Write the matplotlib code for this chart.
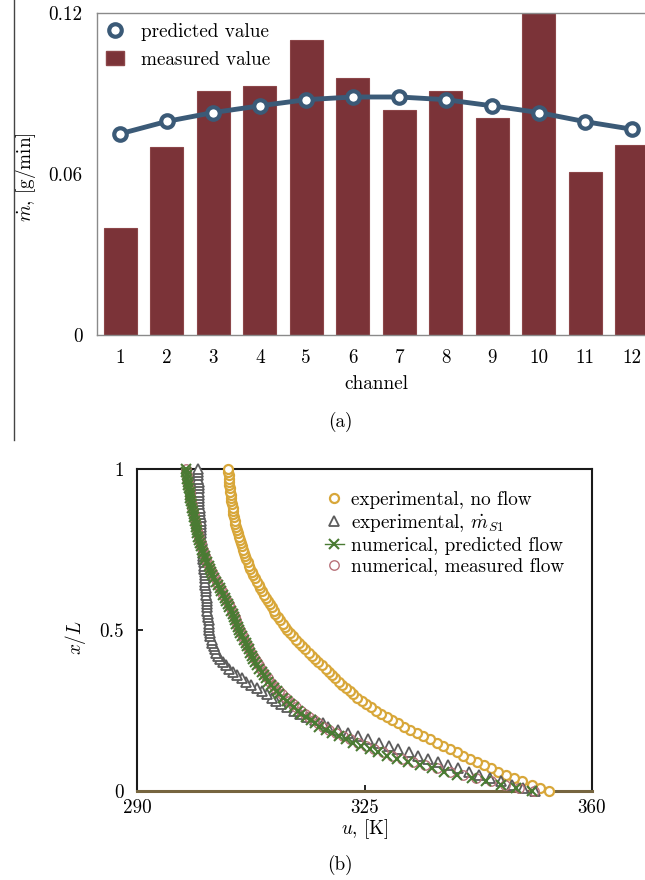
import matplotlib
matplotlib.use("Agg")
import matplotlib.pyplot as plt
from matplotlib.lines import Line2D
from matplotlib.patches import Patch
import numpy as np

plt.rcParams['font.family'] = ['cmr10', 'DejaVu Serif']
plt.rcParams['mathtext.fontset'] = 'cm'
plt.rcParams['axes.formatter.use_mathtext'] = True
plt.rcParams['axes.unicode_minus'] = False

# ---------------- data: panel (a) ----------------
channels = [1, 2, 3, 4, 5, 6, 7, 8, 9, 10, 11, 12]
measured = [0.0399, 0.0699, 0.0910, 0.0929, 0.1098, 0.0958, 0.0839, 0.0910, 0.0810, 0.1215, 0.0608, 0.0709]
predicted = [0.0750, 0.0796, 0.0829, 0.0854, 0.0877, 0.0887, 0.0887, 0.0877, 0.0854, 0.0829, 0.0795, 0.0767]
ticks_a_y = [0, 0.06, 0.12]
ticklabels_a_y = ["0", "0.06", "0.12"]

# ---------------- data: panel (b) ----------------
x_over_L = np.linspace(0.0, 1.0, 101)
u_exp_noflow = [
    353.4, 352.0, 350.7, 349.3, 348.0, 346.8, 345.6, 344.5, 343.4, 342.3, 341.2,
    340.2, 339.2, 338.1, 337.1, 336.1, 335.1, 334.0, 333.0, 332.0, 331.0,
    330.1, 329.3, 328.4, 327.6, 326.8, 326.0, 325.3, 324.6, 323.9, 323.3,
    322.7, 322.1, 321.6, 321.0, 320.5, 320.0, 319.5, 319.0, 318.4, 317.9,
    317.4, 316.9, 316.4, 315.9, 315.4, 314.9, 314.5, 314.0, 313.6, 313.1,
    312.7, 312.4, 312.0, 311.7, 311.3, 311.0, 310.7, 310.4, 310.1, 309.8,
    309.5, 309.2, 308.9, 308.7, 308.4, 308.2, 307.9, 307.7, 307.4, 307.2,
    307.0, 306.8, 306.6, 306.5, 306.3, 306.1, 306.0, 305.8, 305.7, 305.5,
    305.4, 305.3, 305.1, 305.0, 304.9, 304.8, 304.7, 304.7, 304.6, 304.5,
    304.4, 304.4, 304.3, 304.3, 304.2, 304.2, 304.1, 304.1, 304.0, 304.0]
u_exp_ms1 = [
    351.2, 349.4, 347.7, 346.0, 344.3, 342.6, 341.0, 339.4, 337.9, 336.3, 334.8,
    333.3, 331.8, 330.2, 328.7, 327.2, 325.6, 324.0, 322.5, 320.9, 319.4,
    318.6, 317.4, 316.2, 315.1, 314.1, 313.1, 312.2, 311.4, 310.7, 310.0,
    309.2, 308.4, 307.6, 306.8, 306.1, 305.4, 304.8, 304.2, 303.7, 303.2,
    302.8, 302.5, 302.2, 302.0, 301.8, 301.6, 301.5, 301.3, 301.2, 301.1,
    301.1, 301.0, 301.0, 300.9, 300.9, 300.8, 300.8, 300.8, 300.7, 300.7,
    300.6, 300.6, 300.6, 300.5, 300.5, 300.5, 300.4, 300.4, 300.3, 300.3,
    300.3, 300.2, 300.2, 300.1, 300.1, 300.1, 300.0, 300.0, 299.9, 299.9,
    299.9, 299.9, 299.8, 299.8, 299.8, 299.7, 299.7, 299.7, 299.6, 299.6,
    299.6, 299.6, 299.5, 299.5, 299.5, 299.5, 299.4, 299.4, 299.4, 299.4]
u_num_pred = [
    350.7, 348.3, 346.0, 343.7, 341.5, 339.3, 337.3, 335.4, 333.5, 331.7, 330.0,
    328.5, 327.1, 325.8, 324.5, 323.3, 322.2, 321.1, 320.0, 319.0, 318.0,
    317.4, 316.7, 316.0, 315.3, 314.7, 314.1, 313.6, 313.0, 312.5, 311.9,
    311.5, 311.0, 310.6, 310.2, 309.8, 309.5, 309.2, 308.8, 308.5, 308.2,
    307.9, 307.7, 307.4, 307.2, 306.9, 306.7, 306.4, 306.2, 305.9, 305.7,
    305.5, 305.3, 305.1, 304.9, 304.7, 304.5, 304.2, 304.0, 303.7, 303.5,
    303.2, 302.9, 302.7, 302.4, 302.2, 301.9, 301.6, 301.4, 301.2, 301.0,
    300.7, 300.5, 300.4, 300.2, 300.0, 299.9, 299.7, 299.6, 299.4, 299.3,
    299.2, 299.1, 299.0, 298.9, 298.8, 298.7, 298.6, 298.5, 298.4, 298.3,
    298.2, 298.1, 298.1, 298.0, 297.9, 297.8, 297.7, 297.7, 297.6, 297.5]
u_num_meas = [
    351.0, 348.8, 346.6, 344.4, 342.2, 340.1, 338.1, 336.2, 334.3, 332.5, 330.8,
    329.3, 327.9, 326.5, 325.2, 324.0, 322.8, 321.7, 320.6, 319.6, 318.6,
    317.9, 317.2, 316.5, 315.8, 315.2, 314.5, 314.0, 313.4, 312.9, 312.3,
    311.8, 311.3, 310.9, 310.5, 310.1, 309.7, 309.4, 309.0, 308.7, 308.4,
    308.1, 307.8, 307.6, 307.3, 307.1, 306.8, 306.5, 306.3, 306.0, 305.8,
    305.6, 305.4, 305.2, 305.0, 304.8, 304.6, 304.3, 304.1, 303.8, 303.6,
    303.3, 303.0, 302.8, 302.5, 302.3, 302.0, 301.7, 301.5, 301.3, 301.1,
    300.8, 300.6, 300.4, 300.2, 300.1, 299.9, 299.8, 299.6, 299.5, 299.4,
    299.2, 299.1, 299.0, 298.9, 298.8, 298.7, 298.6, 298.5, 298.4, 298.3,
    298.2, 298.1, 298.1, 298.0, 297.9, 297.8, 297.7, 297.7, 297.6, 297.5]
ticks_b_x = [290, 325, 360]
ticks_b_y = [0, 0.5, 1]
ticklabels_b_y = ["0", "0.5", "1"]

W, H = 645, 880
FS = 13.8
fig = plt.figure(figsize=(W / 100, H / 100), dpi=100)

def fx(px):
    return px / W

def fy(py):
    return 1 - py / H

# ---------------- panel (a) ----------------
ax1 = fig.add_axes([fx(97), fy(335), (655 - 97) / W, (335 - 13) / H])
bar_color = '#7b3338'
line_color = '#3b5a77'
ax1.bar(channels, measured, width=0.72, color=bar_color, edgecolor='#8c4649', linewidth=0.8, zorder=2)
ax1.plot(channels, predicted, color=line_color, lw=3.5, marker='o', ms=9,
         mfc='white', mec=line_color, mew=3, zorder=3)
ax1.set_xlim(0.5, 12.5)
ax1.set_ylim(0, 0.12)
ax1.set_xticks(channels)
ax1.set_xticklabels([str(c) for c in channels], fontsize=FS)
ax1.set_yticks(ticks_a_y)
ax1.set_yticklabels(ticklabels_a_y, fontsize=FS)
ax1.tick_params(axis='both', length=0)
ax1.tick_params(axis='x', pad=10)
ax1.tick_params(axis='y', pad=10.5)
for s in ax1.spines.values():
    s.set_color('#8a8a8a')
    s.set_linewidth(1.0)
ax1.set_xlabel('channel', fontsize=FS, labelpad=6)
ax1.set_ylabel(r'$\dot{m}$, [g/min]', fontsize=FS)
ax1.yaxis.set_label_coords(-0.106, 0.49)
h1 = [Line2D([], [], color=line_color, lw=3, marker='o', ms=9, mfc='white', mec=line_color, mew=3, linestyle='none'),
      Patch(facecolor=bar_color, edgecolor='#8c4649')]
ax1.legend(h1, ['predicted value', 'measured value'], loc='upper left',
           bbox_to_anchor=(0.0094, 0.9806), frameon=False, fontsize=FS,
           handlelength=0.95, handletextpad=0.85, labelspacing=0.5, borderpad=0.2,
           borderaxespad=0)

fig.text(fx(340), fy(422), '(a)', fontsize=FS, ha='center', va='center')
fig.add_artist(Line2D([fx(14), fx(14)], [fy(0), fy(440)], color='#444444', lw=1.0))

# ---------------- panel (b) ----------------
ax2 = fig.add_axes([fx(137), fy(791), (592 - 137) / W, (791 - 469) / H])
yel = '#d8a73a'
gry = '#5c5c5c'
grn = '#4a7b33'
pnk = '#b8727a'
ax2.plot(u_exp_noflow, x_over_L, linestyle='none', marker='o', ms=6.5, mfc='white', mec=yel, mew=1.6, clip_on=False, zorder=3)
ax2.plot(u_exp_ms1, x_over_L, linestyle='none', marker='^', ms=7.3, mfc='white', mec=gry, mew=1.3, clip_on=False, zorder=3)
ax2.plot(u_num_meas, x_over_L, linestyle='none', marker='o', ms=6.8, mfc='none', mec=pnk, mew=1.0, clip_on=False, zorder=4)
ax2.plot(u_num_pred, x_over_L, linestyle='none', marker='x', ms=7.2, mec=grn, mew=1.5, clip_on=False, zorder=5)
ax2.set_xlim(290, 360)
ax2.set_ylim(0, 1)
ax2.set_xticks(ticks_b_x)
ax2.set_xticklabels([str(t) for t in ticks_b_x], fontsize=FS)
ax2.set_yticks(ticks_b_y)
ax2.set_yticklabels(ticklabels_b_y, fontsize=FS)
ax2.tick_params(axis='both', direction='in', length=4, width=1.2, color='black')
ax2.tick_params(axis='x', pad=6)
ax2.tick_params(axis='y', pad=9.5)
for s in ax2.spines.values():
    s.set_color('#1a1a1a')
    s.set_linewidth(1.5)
ax2.spines['bottom'].set_color('#76653f')
ax2.spines['bottom'].set_linewidth(2.2)
ax2.set_xlabel(r'$u$, [K]', fontsize=FS, labelpad=0)
ax2.set_ylabel(r'$x/L$', fontsize=FS)
ax2.yaxis.set_label_coords(-0.108, 0.478)
h2 = [Line2D([], [], linestyle='none', marker='o', ms=6.5, mfc='white', mec=yel, mew=1.6),
      Line2D([], [], linestyle='none', marker='^', ms=7.3, mfc='white', mec=gry, mew=1.3),
      Line2D([], [], color=grn, lw=1.0, marker='x', ms=7.2, mec=grn, mew=1.5),
      Line2D([], [], linestyle='none', marker='o', ms=6.8, mfc='none', mec=pnk, mew=1.0)]
ax2.legend(h2, ['experimental, no flow', r'experimental, $\dot{m}_{S1}$',
                'numerical, predicted flow', 'numerical, measured flow'],
           loc='upper left', bbox_to_anchor=(0.408, 0.938), frameon=False, fontsize=FS,
           handlelength=1.0, handletextpad=0.4, labelspacing=0.15, borderpad=0.1,
           borderaxespad=0)

fig.text(fx(340), fy(865), '(b)', fontsize=FS, ha='center', va='center')

fig.savefig('out.png', dpi=100)
